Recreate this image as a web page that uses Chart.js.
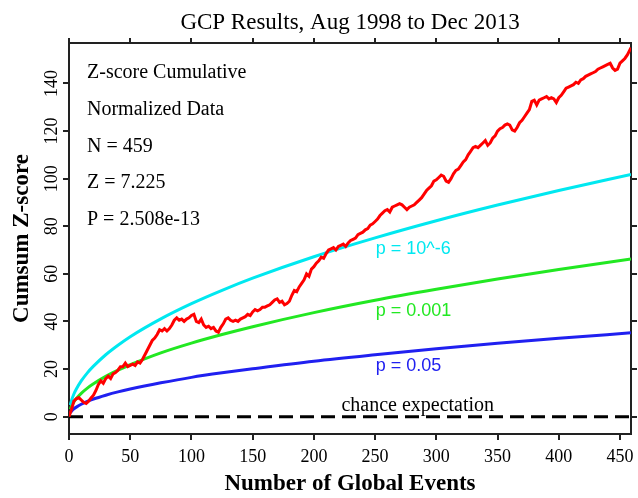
<!DOCTYPE html>
<html lang="en">
  <head>
    <meta charset="UTF-8" />
    <title>GCP Results</title>
    <script src="https://cdn.jsdelivr.net/npm/chart.js"></script>
    <style>
      html, body { margin: 0; padding: 0; background: #ffffff; }
      #wrap { width: 638px; height: 498px; }
    </style>
  </head>
  <body>
    <div id="wrap"><canvas id="gcpChart" width="638" height="498"></canvas></div>

    <script>
      // cumulative deviation, sampled every 2 events (last one is event 459)
      var redCumsum = [
        0, 3, 6.5, 7.5, 8, 7, 6, 5.5, 6.5, 7.8,
        9, 11, 13.5, 15, 14, 16, 17, 16, 18, 18.5,
        19.5, 21, 21, 22.5, 21, 21.5, 22, 21.5, 23, 22.5,
        24, 26, 28, 30, 32, 33, 34.5, 36.5, 36, 37,
        36, 37, 38.5, 40.5, 41.5, 40.5, 41, 40, 41, 41.5,
        42.5, 43, 40, 39.5, 41, 38.5, 37.5, 38, 37, 37.5,
        36, 35.5, 37.5, 39, 41, 41.5, 40.5, 40, 40.5, 40,
        41, 41.5, 42, 43, 42.5, 44, 45, 44.5, 45, 46,
        46, 46.5, 47, 48, 49, 49.5, 48, 48.5, 47, 47.5,
        48.5, 51, 53, 52.5, 54.5, 56, 57.5, 60, 59, 62,
        63, 64.5, 65.5, 67, 66.5, 68.5, 70, 70.5, 71, 70,
        71.5, 72, 72.5, 71.5, 73, 74, 74.5, 75, 76.5, 77,
        77.5, 78.5, 79, 80.5, 81, 82, 83, 84.5, 85.5, 86.5,
        87, 86, 88, 88.5, 89, 89.5, 89, 88, 87, 88,
        88.5, 89, 90, 91, 92, 93.5, 95, 96, 97, 99,
        99.5, 100.5, 101.5, 101, 99, 98.5, 100, 102, 103.5, 104,
        105.5, 107, 108, 110, 111.5, 113, 113.5, 113, 114, 115,
        116, 114, 115, 117, 118, 120, 121, 121.5, 122.5, 123,
        122.5, 120.5, 120, 121.5, 123.5, 124.5, 126, 127.5, 129, 132.5,
        133, 131, 133, 133.5, 134, 134.5, 133.5, 134, 133.5, 132,
        134, 135, 136.5, 138, 138.5, 139, 139.5, 140.5, 140, 141.5,
        142, 143, 143.5, 144, 144.5, 145, 146, 146.5, 147, 147.5,
        148, 148.5, 146.5, 145.5, 146, 148.5, 149.5, 150.5, 152, 154,
        155
      ];
      var redEvents = redCumsum.map(function (v, i) { return Math.min(i * 2, 459); });

      // probability envelopes
      var refEvents = [1, 2, 4, 6, 10, 15, 20, 30, 40, 50, 75, 100, 125, 150, 200, 250, 300, 350, 400, 459];
      var p6Values = [4.8, 6.7, 9.5, 11.6, 15, 18.4, 21.2, 26, 30, 33.6, 41.1, 47.5, 53.1, 58.2, 67.2, 75.1, 82.3, 88.9, 95, 101.8];
      var p001Values = [3.1, 4.4, 6.2, 7.6, 9.8, 12, 13.8, 16.9, 19.5, 21.8, 26.8, 30.9, 34.5, 37.8, 43.7, 48.9, 53.5, 57.8, 61.8, 66.2];
      var p05Values = [1.6, 2.3, 3.3, 4, 5.2, 6.4, 7.4, 9, 10.4, 11.6, 14.2, 16.5, 18.4, 20.1, 23.3, 26, 28.5, 30.8, 32.9, 35.2];

      var chanceEvents = [0, 459];
      var chanceValues = [0, 0];

      var xTickValues = [0, 50, 100, 150, 200, 250, 300, 350, 400, 450];
      var yTickValues = [0, 20, 40, 60, 80, 100, 120, 140];

      var statsLines = ["Z-score Cumulative", "Normalized Data", "N = 459", "Z = 7.225", "P = 2.508e-13"];

      function pts(xs, ys) {
        return xs.map(function (x, i) { return { x: x, y: ys[i] }; });
      }

      var serif = "'Liberation Serif', 'Times New Roman', serif";
      var sans = "'Liberation Sans', Arial, sans-serif";

      // texts inside the plot
      var labelPlugin = {
        id: "labels",
        afterDatasetsDraw: function (chart) {
          var ctx = chart.ctx;
          var area = chart.chartArea;
          var xs = chart.scales.x;
          var ys = chart.scales.y;
          ctx.save();
          ctx.textBaseline = "middle";
          ctx.textAlign = "left";
          ctx.fillStyle = "#000";
          ctx.font = "20px " + serif;
          statsLines.forEach(function (t, i) {
            ctx.fillText(t, area.left + 18, area.top + 30 + i * 36.7);
          });
          ctx.fillText("chance expectation", xs.getPixelForValue(222.5), ys.getPixelForValue(4.6));
          ctx.font = "18px " + sans;
          ctx.fillStyle = "#00e8f0";
          ctx.fillText("p = 10^-6", xs.getPixelForValue(250.5), ys.getPixelForValue(70.3));
          ctx.fillStyle = "#22e822";
          ctx.fillText("p = 0.001", xs.getPixelForValue(250.5), ys.getPixelForValue(44.3));
          ctx.fillStyle = "#2020f0";
          ctx.fillText("p = 0.05", xs.getPixelForValue(250.5), ys.getPixelForValue(21.3));
          ctx.restore();
        },
      };

      var frame = { display: true, color: "#222", width: 2 };

      var ctx = document.getElementById("gcpChart").getContext("2d");
      var gcpChart = new Chart(ctx, {
        type: "line",
        data: {
          datasets: [
            {
              label: "Cumsum",
              data: pts(redEvents, redCumsum),
              borderColor: "#ff0000",
              borderWidth: 3,
              pointRadius: 0,
              tension: 0,
            },
            {
              label: "p = 10^-6",
              data: pts(refEvents, p6Values),
              borderColor: "#00e8f0",
              borderWidth: 3,
              pointRadius: 0,
              cubicInterpolationMode: "monotone",
            },
            {
              label: "p = 0.001",
              data: pts(refEvents, p001Values),
              borderColor: "#22e822",
              borderWidth: 3,
              pointRadius: 0,
              cubicInterpolationMode: "monotone",
            },
            {
              label: "p = 0.05",
              data: pts(refEvents, p05Values),
              borderColor: "#2020f0",
              borderWidth: 3,
              pointRadius: 0,
              cubicInterpolationMode: "monotone",
            },
            {
              label: "chance expectation",
              data: pts(chanceEvents, chanceValues),
              borderColor: "#000",
              borderWidth: 3,
              borderDash: [14, 7],
              pointRadius: 0,
            },
          ],
        },
        options: {
          responsive: false,
          animation: false,
          layout: { padding: 0 },
          plugins: {
            legend: { display: false },
            tooltip: { enabled: false },
            title: {
              display: true,
              fullSize: false,
              text: "GCP Results, Aug 1998 to Dec 2013",
              color: "#000",
              font: { family: serif, size: 23, weight: "normal", lineHeight: 1.2 },
              padding: { top: 9.5, bottom: 0.9 },
            },
          },
          scales: {
            x: {
              type: "linear",
              position: "bottom",
              min: 0,
              max: 459,
              afterBuildTicks: function (s) { s.ticks = xTickValues.map(function (v) { return { value: v }; }); },
              afterFit: function (s) { s.height = 64; },
              grid: { drawOnChartArea: false, drawTicks: true, tickLength: 6, color: "#222", lineWidth: 2 },
              border: frame,
              ticks: { color: "#000", font: { family: serif, size: 18, lineHeight: 1.5 }, padding: 4, maxRotation: 0, autoSkip: false },
              title: {
                display: true,
                text: "Number of Global Events",
                color: "#000",
                font: { family: serif, size: 23, weight: "bold", lineHeight: 1.2 },
                padding: { top: 0, bottom: 0 },
              },
            },
            x2: {
              type: "linear",
              position: "top",
              min: 0,
              max: 459,
              afterBuildTicks: function (s) { s.ticks = xTickValues.map(function (v) { return { value: v }; }); },
              afterFit: function (s) { s.height = 5; },
              grid: { drawOnChartArea: false, tickLength: 5, color: "#222", lineWidth: 2 },
              border: frame,
              ticks: { display: false },
            },
            y: {
              type: "linear",
              position: "left",
              min: -7.3,
              max: 157,
              afterBuildTicks: function (s) { s.ticks = yTickValues.map(function (v) { return { value: v }; }); },
              afterFit: function (s) { s.width = 69; },
              grid: { drawOnChartArea: false, tickLength: 6, color: "#222", lineWidth: 2 },
              border: frame,
              ticks: { color: "#000", font: { family: serif, size: 18 }, padding: -3, minRotation: 90, maxRotation: 90, crossAlign: "center", autoSkip: false },
              title: {
                display: true,
                text: "Cumsum Z-score",
                color: "#000",
                font: { family: serif, size: 23, weight: "bold", lineHeight: 1.2 },
                padding: { top: 8, bottom: 0 },
              },
            },
            y2: {
              type: "linear",
              position: "right",
              min: -7.3,
              max: 157,
              afterBuildTicks: function (s) { s.ticks = yTickValues.map(function (v) { return { value: v }; }); },
              afterFit: function (s) { s.width = 7; },
              grid: { drawOnChartArea: false, tickLength: 6, color: "#222", lineWidth: 2 },
              border: frame,
              ticks: { display: false },
            },
          },
        },
        plugins: [labelPlugin],
      });
    </script>
  </body>
</html>
